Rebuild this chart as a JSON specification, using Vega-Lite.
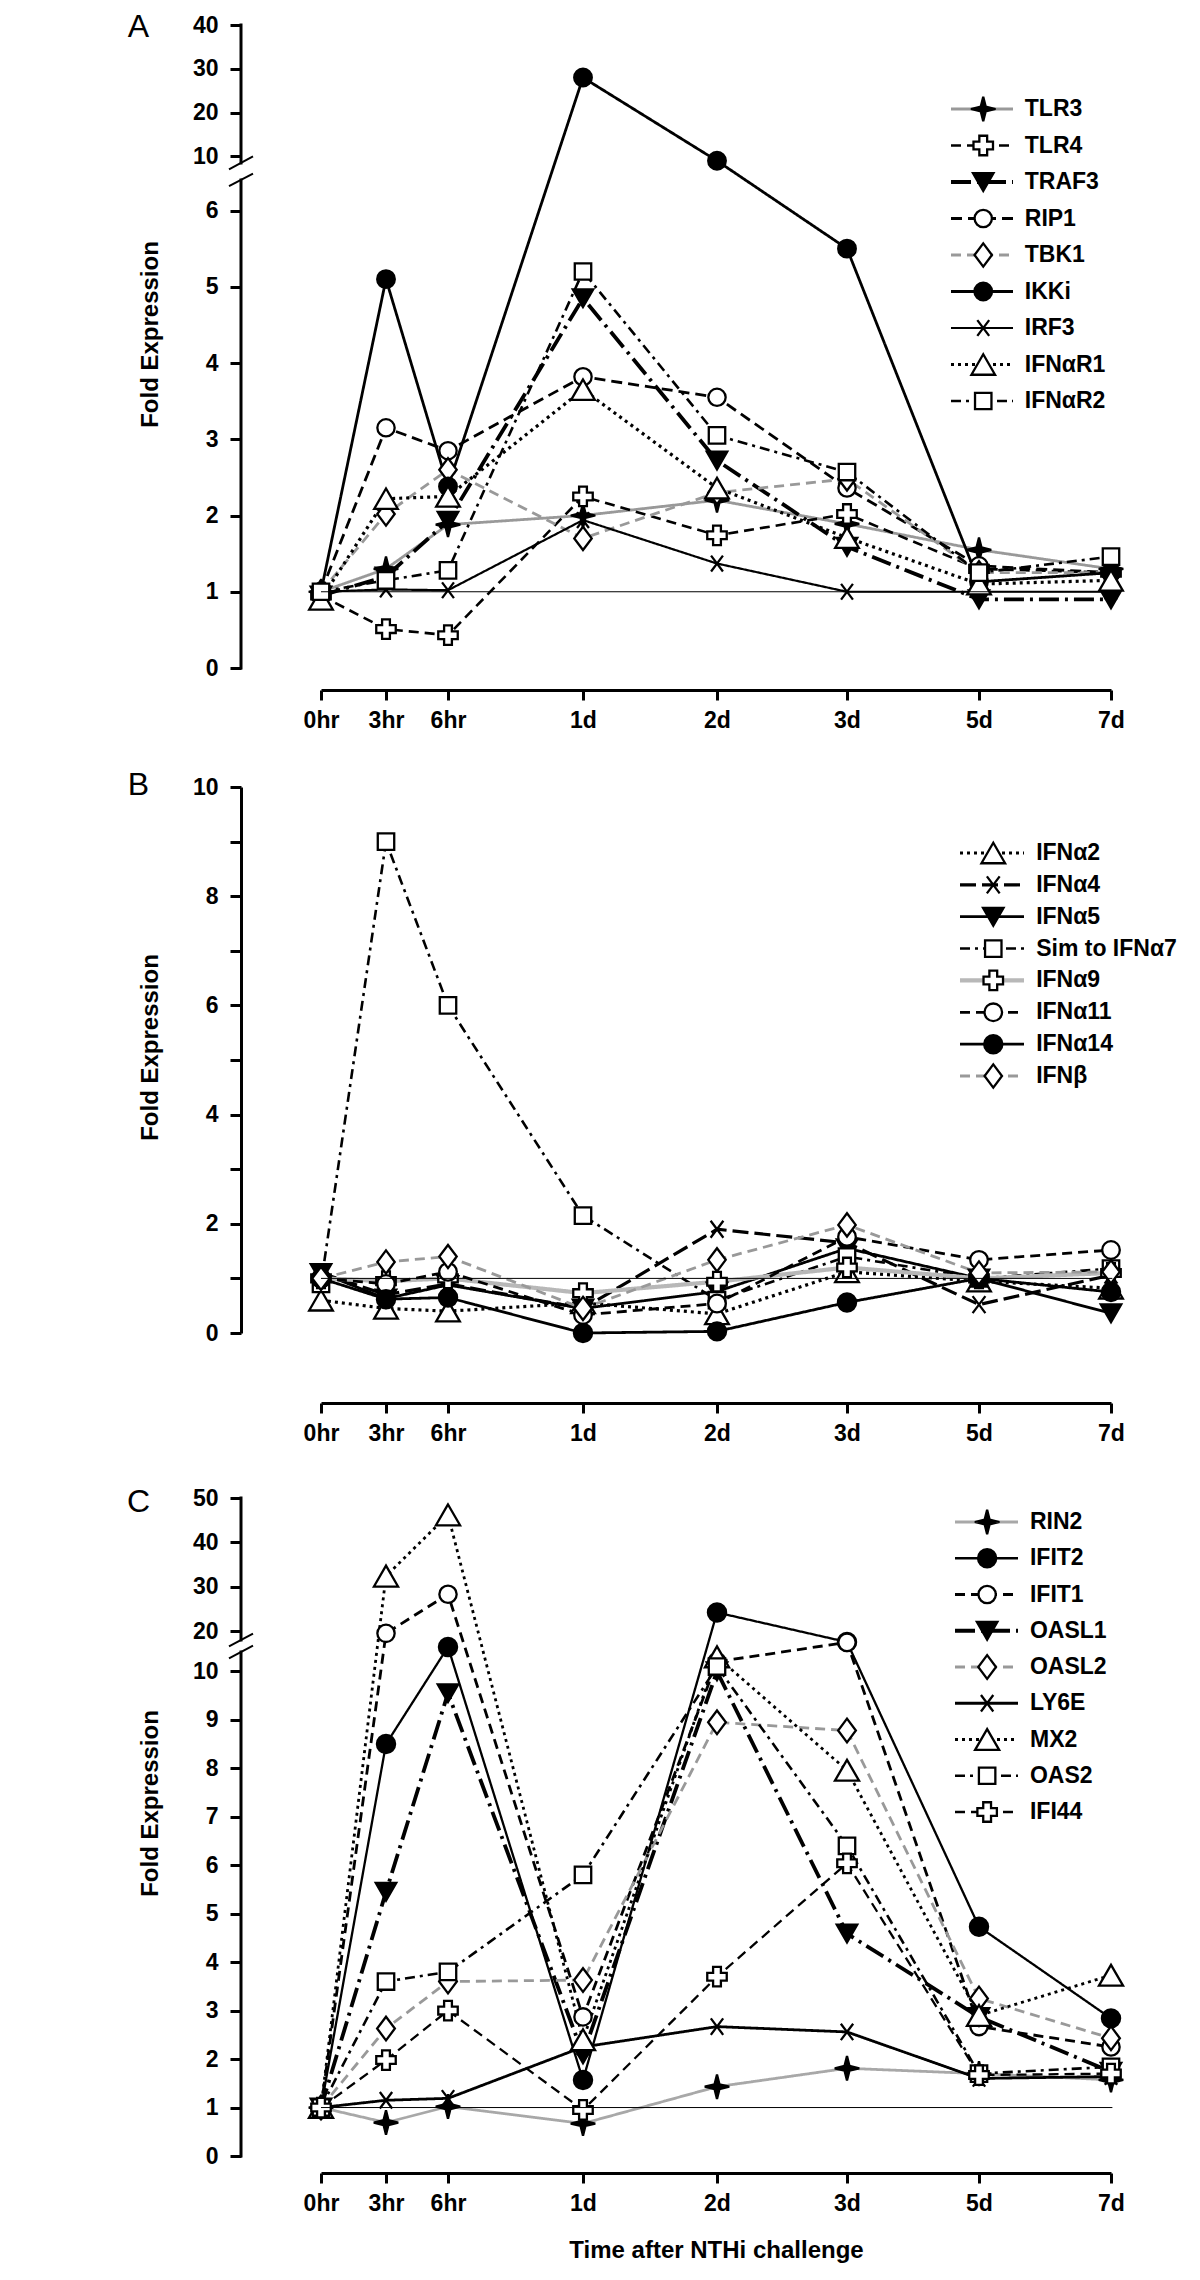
{
"$schema": "https://vega.github.io/schema/vega-lite/v6.json",
"width": 1200, "height": 2280, "autosize": "none", "padding": 0, "background": "white",
"config": {
  "view": {"stroke": null},
  "font": "Liberation Sans",
  "axis": {"domainColor": "black", "domainWidth": 3, "tickColor": "black", "tickWidth": 3, "tickSize": 11, "labelFont": "Liberation Sans", "labelFontSize": 23, "labelFontWeight": "bold", "labelColor": "black", "titleFont": "Liberation Sans", "titleFontSize": 24, "titleFontWeight": "bold", "titleColor": "black", "grid": false, "labelPadding": 12, "labelOverlap": false, "labelFlush": false},
  "axisX": {"tickSize": 10, "labelPadding": 9, "labelAngle": 0}
},
"datasets": {
"A": [
{"gene":"TLR3","t":0,"v":1.0},{"gene":"TLR3","t":3,"v":1.3},{"gene":"TLR3","t":6,"v":1.88},{"gene":"TLR3","t":24,"v":2.0},{"gene":"TLR3","t":48,"v":2.2},{"gene":"TLR3","t":72,"v":1.89},{"gene":"TLR3","t":120,"v":1.55},{"gene":"TLR3","t":168,"v":1.3},
{"gene":"TLR4","t":0,"v":0.95},{"gene":"TLR4","t":3,"v":0.51},{"gene":"TLR4","t":6,"v":0.43},{"gene":"TLR4","t":24,"v":2.25},{"gene":"TLR4","t":48,"v":1.74},{"gene":"TLR4","t":72,"v":2.02},{"gene":"TLR4","t":120,"v":1.3},{"gene":"TLR4","t":168,"v":1.25},
{"gene":"TRAF3","t":0,"v":0.95},{"gene":"TRAF3","t":3,"v":1.2},{"gene":"TRAF3","t":6,"v":1.93},{"gene":"TRAF3","t":24,"v":4.85},{"gene":"TRAF3","t":48,"v":2.72},{"gene":"TRAF3","t":72,"v":1.59},{"gene":"TRAF3","t":120,"v":0.9},{"gene":"TRAF3","t":168,"v":0.9},
{"gene":"RIP1","t":0,"v":1.0},{"gene":"RIP1","t":3,"v":3.15},{"gene":"RIP1","t":6,"v":2.85},{"gene":"RIP1","t":24,"v":3.82},{"gene":"RIP1","t":48,"v":3.55},{"gene":"RIP1","t":72,"v":2.36},{"gene":"RIP1","t":120,"v":1.34},{"gene":"RIP1","t":168,"v":1.25},
{"gene":"TBK1","t":0,"v":1.0},{"gene":"TBK1","t":3,"v":2.02},{"gene":"TBK1","t":6,"v":2.6},{"gene":"TBK1","t":24,"v":1.7},{"gene":"TBK1","t":48,"v":2.3},{"gene":"TBK1","t":72,"v":2.48},{"gene":"TBK1","t":120,"v":1.25},{"gene":"TBK1","t":168,"v":1.25},
{"gene":"IKKi","t":0,"v":1.0},{"gene":"IKKi","t":3,"v":5.1},{"gene":"IKKi","t":6,"v":2.38},{"gene":"IKKi","t":24,"v":28},{"gene":"IKKi","t":48,"v":9.0},{"gene":"IKKi","t":72,"v":5.5},{"gene":"IKKi","t":120,"v":1.13},{"gene":"IKKi","t":168,"v":1.25},
{"gene":"IRF3","t":0,"v":1.0},{"gene":"IRF3","t":3,"v":1.03},{"gene":"IRF3","t":6,"v":1.02},{"gene":"IRF3","t":24,"v":1.94},{"gene":"IRF3","t":48,"v":1.37},{"gene":"IRF3","t":72,"v":1.0},{"gene":"IRF3","t":120,"v":1.0},{"gene":"IRF3","t":168,"v":1.0},
{"gene":"IFNαR1","t":0,"v":0.9},{"gene":"IFNαR1","t":3,"v":2.22},{"gene":"IFNαR1","t":6,"v":2.25},{"gene":"IFNαR1","t":24,"v":3.65},{"gene":"IFNαR1","t":48,"v":2.36},{"gene":"IFNαR1","t":72,"v":1.71},{"gene":"IFNαR1","t":120,"v":1.1},{"gene":"IFNαR1","t":168,"v":1.15},
{"gene":"IFNαR2","t":0,"v":1.0},{"gene":"IFNαR2","t":3,"v":1.15},{"gene":"IFNαR2","t":6,"v":1.28},{"gene":"IFNαR2","t":24,"v":5.2},{"gene":"IFNαR2","t":48,"v":3.05},{"gene":"IFNαR2","t":72,"v":2.57},{"gene":"IFNαR2","t":120,"v":1.25},{"gene":"IFNαR2","t":168,"v":1.46}
],
"B": [
{"gene":"IFNα2","t":0,"v":0.6},{"gene":"IFNα2","t":3,"v":0.45},{"gene":"IFNα2","t":6,"v":0.4},{"gene":"IFNα2","t":24,"v":0.55},{"gene":"IFNα2","t":48,"v":0.35},{"gene":"IFNα2","t":72,"v":1.12},{"gene":"IFNα2","t":120,"v":0.95},{"gene":"IFNα2","t":168,"v":0.82},
{"gene":"IFNα4","t":0,"v":1.1},{"gene":"IFNα4","t":3,"v":0.7},{"gene":"IFNα4","t":6,"v":0.9},{"gene":"IFNα4","t":24,"v":0.45},{"gene":"IFNα4","t":48,"v":1.9},{"gene":"IFNα4","t":72,"v":1.65},{"gene":"IFNα4","t":120,"v":0.52},{"gene":"IFNα4","t":168,"v":1.06},
{"gene":"IFNα5","t":0,"v":1.1},{"gene":"IFNα5","t":3,"v":0.63},{"gene":"IFNα5","t":6,"v":0.88},{"gene":"IFNα5","t":24,"v":0.45},{"gene":"IFNα5","t":48,"v":0.76},{"gene":"IFNα5","t":72,"v":1.55},{"gene":"IFNα5","t":120,"v":1.0},{"gene":"IFNα5","t":168,"v":0.36},
{"gene":"Sim to IFNα7","t":0,"v":0.9},{"gene":"Sim to IFNα7","t":3,"v":9.0},{"gene":"Sim to IFNα7","t":6,"v":6.0},{"gene":"Sim to IFNα7","t":24,"v":2.15},{"gene":"Sim to IFNα7","t":48,"v":0.6},{"gene":"Sim to IFNα7","t":72,"v":1.4},{"gene":"Sim to IFNα7","t":120,"v":1.0},{"gene":"Sim to IFNα7","t":168,"v":1.18},
{"gene":"IFNα9","t":0,"v":1.0},{"gene":"IFNα9","t":3,"v":0.95},{"gene":"IFNα9","t":6,"v":1.0},{"gene":"IFNα9","t":24,"v":0.73},{"gene":"IFNα9","t":48,"v":0.94},{"gene":"IFNα9","t":72,"v":1.2},{"gene":"IFNα9","t":120,"v":1.0},{"gene":"IFNα9","t":168,"v":1.1},
{"gene":"IFNα11","t":0,"v":1.0},{"gene":"IFNα11","t":3,"v":0.9},{"gene":"IFNα11","t":6,"v":1.12},{"gene":"IFNα11","t":24,"v":0.33},{"gene":"IFNα11","t":48,"v":0.54},{"gene":"IFNα11","t":72,"v":1.76},{"gene":"IFNα11","t":120,"v":1.34},{"gene":"IFNα11","t":168,"v":1.52},
{"gene":"IFNα14","t":0,"v":1.0},{"gene":"IFNα14","t":3,"v":0.62},{"gene":"IFNα14","t":6,"v":0.65},{"gene":"IFNα14","t":24,"v":0.0},{"gene":"IFNα14","t":48,"v":0.03},{"gene":"IFNα14","t":72,"v":0.56},{"gene":"IFNα14","t":120,"v":1.0},{"gene":"IFNα14","t":168,"v":0.75},
{"gene":"IFNβ","t":0,"v":1.0},{"gene":"IFNβ","t":3,"v":1.3},{"gene":"IFNβ","t":6,"v":1.4},{"gene":"IFNβ","t":24,"v":0.45},{"gene":"IFNβ","t":48,"v":1.34},{"gene":"IFNβ","t":72,"v":1.98},{"gene":"IFNβ","t":120,"v":1.1},{"gene":"IFNβ","t":168,"v":1.12}
],
"C": [
{"gene":"RIN2","t":0,"v":1.0},{"gene":"RIN2","t":3,"v":0.69},{"gene":"RIN2","t":6,"v":1.02},{"gene":"RIN2","t":24,"v":0.67},{"gene":"RIN2","t":48,"v":1.43},{"gene":"RIN2","t":72,"v":1.81},{"gene":"RIN2","t":120,"v":1.7},{"gene":"RIN2","t":168,"v":1.57},
{"gene":"IFIT2","t":0,"v":1.0},{"gene":"IFIT2","t":3,"v":8.5},{"gene":"IFIT2","t":6,"v":13.6},{"gene":"IFIT2","t":24,"v":1.57},{"gene":"IFIT2","t":48,"v":24.2},{"gene":"IFIT2","t":72,"v":16.7},{"gene":"IFIT2","t":120,"v":4.73},{"gene":"IFIT2","t":168,"v":2.84},
{"gene":"IFIT1","t":0,"v":1.0},{"gene":"IFIT1","t":3,"v":19.5},{"gene":"IFIT1","t":6,"v":28.3},{"gene":"IFIT1","t":24,"v":2.87},{"gene":"IFIT1","t":48,"v":10.2},{"gene":"IFIT1","t":72,"v":16.5},{"gene":"IFIT1","t":120,"v":2.67},{"gene":"IFIT1","t":168,"v":2.25},
{"gene":"OASL1","t":0,"v":1.0},{"gene":"OASL1","t":3,"v":5.45},{"gene":"OASL1","t":6,"v":9.55},{"gene":"OASL1","t":24,"v":2.1},{"gene":"OASL1","t":48,"v":10.0},{"gene":"OASL1","t":72,"v":4.59},{"gene":"OASL1","t":120,"v":2.87},{"gene":"OASL1","t":168,"v":1.74},
{"gene":"OASL2","t":0,"v":1.0},{"gene":"OASL2","t":3,"v":2.63},{"gene":"OASL2","t":6,"v":3.6},{"gene":"OASL2","t":24,"v":3.63},{"gene":"OASL2","t":48,"v":8.95},{"gene":"OASL2","t":72,"v":8.78},{"gene":"OASL2","t":120,"v":3.25},{"gene":"OASL2","t":168,"v":2.43},
{"gene":"LY6E","t":0,"v":1.0},{"gene":"LY6E","t":3,"v":1.15},{"gene":"LY6E","t":6,"v":1.19},{"gene":"LY6E","t":24,"v":2.25},{"gene":"LY6E","t":48,"v":2.67},{"gene":"LY6E","t":72,"v":2.56},{"gene":"LY6E","t":120,"v":1.6},{"gene":"LY6E","t":168,"v":1.64},
{"gene":"MX2","t":0,"v":1.0},{"gene":"MX2","t":3,"v":32.4},{"gene":"MX2","t":6,"v":46.2},{"gene":"MX2","t":24,"v":2.4},{"gene":"MX2","t":48,"v":10.3},{"gene":"MX2","t":72,"v":7.96},{"gene":"MX2","t":120,"v":2.9},{"gene":"MX2","t":168,"v":3.73},
{"gene":"OAS2","t":0,"v":1.0},{"gene":"OAS2","t":3,"v":3.6},{"gene":"OAS2","t":6,"v":3.8},{"gene":"OAS2","t":24,"v":5.8},{"gene":"OAS2","t":48,"v":10.1},{"gene":"OAS2","t":72,"v":6.4},{"gene":"OAS2","t":120,"v":1.7},{"gene":"OAS2","t":168,"v":1.84},
{"gene":"IFI44","t":0,"v":1.0},{"gene":"IFI44","t":3,"v":1.98},{"gene":"IFI44","t":6,"v":3.0},{"gene":"IFI44","t":24,"v":0.95},{"gene":"IFI44","t":48,"v":3.7},{"gene":"IFI44","t":72,"v":6.04},{"gene":"IFI44","t":120,"v":1.67},{"gene":"IFI44","t":168,"v":1.7}
]
},
"layer": [
{"data":{"name":"A"},"mark":{"type":"line"},"encoding":{
 "x":{"field":"t","type":"quantitative","scale":{"domain":[0,3,6,24,48,72,120,168],"range":[321,386,448,583,717,847,979,1111],"nice":false,"zero":false},"axis":{"orient":"bottom","offset":-1590,"values":[0,3,6,24,48,72,120,168],"labelExpr":"datum.value < 24 ? datum.value + 'hr' : (datum.value/24) + 'd'","title":null}},
 "y":{"field":"v","type":"quantitative","scale":{"domain":[0,6.4,8.5,40],"range":[668,180,163,25],"nice":false,"zero":false},"axis":{"orient":"left","offset":-241,"domain":false,"values":[0,1,2,3,4,5,6,10,20,30,40],"title":"Fold Expression","titleX":-91,"titleY":334,"titleAngle":270,"titleAlign":"center","titleBaseline":"middle"}},
 "color":{"field":"gene","type":"nominal","scale":{"domain":["TLR3","TLR4","TRAF3","RIP1","TBK1","IKKi","IRF3","IFNαR1","IFNαR2"],"range":["#999999","#000000","#000000","#000000","#999999","#000000","#000000","#000000","#000000"]},"legend":null},
 "strokeDash":{"field":"gene","type":"nominal","scale":{"domain":["TLR3","TLR4","TRAF3","RIP1","TBK1","IKKi","IRF3","IFNαR1","IFNαR2"],"range":[[1,0],[10,6],[20,6,3,6],[11,6],[10,6],[1,0],[1,0],[3,4],[10,5,3,5]]},"legend":null},
 "strokeWidth":{"field":"gene","type":"nominal","scale":{"type":"ordinal","domain":["TLR3","TLR4","TRAF3","RIP1","TBK1","IKKi","IRF3","IFNαR1","IFNαR2"],"range":[2.8,2.6,3.8,2.8,2.8,2.8,2.2,3.2,2.6]},"legend":null}
}},
{"data":{"name":"A"},"mark":{"type":"point","opacity":1,"stroke":"black","strokeWidth":2.3},"encoding":{
 "x":{"field":"t","type":"quantitative","scale":{"domain":[0,3,6,24,48,72,120,168],"range":[321,386,448,583,717,847,979,1111],"nice":false,"zero":false},"axis":null},
 "y":{"field":"v","type":"quantitative","scale":{"domain":[0,6.4,8.5,40],"range":[668,180,163,25],"nice":false,"zero":false},"axis":null},
 "shape":{"field":"gene","type":"nominal","scale":{"domain":["TLR3","TLR4","TRAF3","RIP1","TBK1","IKKi","IRF3","IFNαR1","IFNαR2"],"range":["M0,-1L0.2,-0.2L1,0L0.2,0.2L0,1L-0.2,0.2L-1,0L-0.2,-0.2Z","cross","triangle-down","circle","M0,-1L0.75,0L0,1L-0.75,0Z","circle","M-0.75,-1L0.75,1M-0.75,1L0.75,-1","triangle-up","square"]},"legend":null},
 "fill":{"field":"gene","type":"nominal","scale":{"domain":["TLR3","TLR4","TRAF3","RIP1","TBK1","IKKi","IRF3","IFNαR1","IFNαR2"],"range":["#000000","#ffffff","#000000","#ffffff","#ffffff","#000000","#ffffff","#ffffff","#ffffff"]},"legend":null},
 "size":{"field":"gene","type":"nominal","scale":{"type":"ordinal","domain":["TLR3","TLR4","TRAF3","RIP1","TBK1","IKKi","IRF3","IFNαR1","IFNαR2"],"range":[600,380,420,300,540,310,250,560,270]},"legend":null}
}},
{"data":{"values":[{}]},"mark":{"type":"rule","color":"black","strokeWidth":1},"encoding":{
 "x":{"datum":0,"type":"quantitative","scale":{"domain":[0,3,6,24,48,72,120,168],"range":[321,386,448,583,717,847,979,1111],"nice":false,"zero":false},"axis":null},"x2":{"datum":168.5},
 "y":{"datum":1,"type":"quantitative","scale":{"domain":[0,6.4,8.5,40],"range":[668,180,163,25],"nice":false,"zero":false},"axis":null}}},
{"data":{"values":[{}]},"mark":{"type":"rule","color":"black","strokeWidth":3,"strokeCap":"square"},"encoding":{
 "x":{"datum":0,"type":"quantitative","scale":{"domain":[-1,1],"range":[229,253],"nice":false,"zero":false},"axis":null},
 "y":{"datum":0,"type":"quantitative","scale":{"domain":[0,6.4,8.5,40],"range":[668,180,163,25],"nice":false,"zero":false},"axis":null},"y2":{"datum":6.4}}},
{"data":{"values":[{}]},"mark":{"type":"rule","color":"black","strokeWidth":3,"strokeCap":"square"},"encoding":{
 "x":{"datum":0,"type":"quantitative","scale":{"domain":[-1,1],"range":[229,253],"nice":false,"zero":false},"axis":null},
 "y":{"datum":8.5,"type":"quantitative","scale":{"domain":[0,6.4,8.5,40],"range":[668,180,163,25],"nice":false,"zero":false},"axis":null},"y2":{"datum":40}}},
{"data":{"values":[{}]},"mark":{"type":"rule","color":"black","strokeWidth":2},"encoding":{
 "x":{"datum":-1,"type":"quantitative","scale":{"domain":[-1,1],"range":[229,253],"nice":false,"zero":false},"axis":null},"x2":{"datum":1},
 "y":{"datum":7.7,"type":"quantitative","scale":{"domain":[0,6.4,8.5,40],"range":[668,180,163,25],"nice":false,"zero":false},"axis":null},"y2":{"datum":10.0}}},
{"data":{"values":[{}]},"mark":{"type":"rule","color":"black","strokeWidth":2},"encoding":{
 "x":{"datum":-1,"type":"quantitative","scale":{"domain":[-1,1],"range":[229,253],"nice":false,"zero":false},"axis":null},"x2":{"datum":1},
 "y":{"datum":6.32,"type":"quantitative","scale":{"domain":[0,6.4,8.5,40],"range":[668,180,163,25],"nice":false,"zero":false},"axis":null},"y2":{"datum":7.2}}},
{"data":{"values":[{}]},"mark":{"type":"text","fontSize":32,"fontWeight":"normal","font":"Liberation Sans","align":"center","baseline":"middle","color":"black"},"encoding":{
 "text":{"datum":"A"},
 "x":{"datum":-8.54,"type":"quantitative","scale":{"domain":[-1,1],"range":[229,253],"nice":false,"zero":false},"axis":null},
 "y":{"datum":39.5,"type":"quantitative","scale":{"domain":[0,6.4,8.5,40],"range":[668,180,163,25],"nice":false,"zero":false},"axis":null}}},
{"data":{"name":"A"},"transform":[{"filter":"datum.t == 0"}],"mark":{"type":"rule"},"encoding":{
 "x":{"datum":0,"type":"quantitative","scale":{"domain":[0,1],"range":[951,1013],"nice":false,"zero":false},"axis":null},"x2":{"datum":1},
 "y":{"field":"gene","type":"nominal","scale":{"type":"point","domain":["TLR3","TLR4","TRAF3","RIP1","TBK1","IKKi","IRF3","IFNαR1","IFNαR2"],"range":[109,401],"padding":0},"axis":null},
 "color":{"field":"gene","type":"nominal","scale":{"domain":["TLR3","TLR4","TRAF3","RIP1","TBK1","IKKi","IRF3","IFNαR1","IFNαR2"],"range":["#999999","#000000","#000000","#000000","#999999","#000000","#000000","#000000","#000000"]},"legend":null},
 "strokeDash":{"field":"gene","type":"nominal","scale":{"domain":["TLR3","TLR4","TRAF3","RIP1","TBK1","IKKi","IRF3","IFNαR1","IFNαR2"],"range":[[1,0],[10,6],[20,6,3,6],[11,6],[10,6],[1,0],[1,0],[3,4],[10,5,3,5]]},"legend":null},
 "strokeWidth":{"field":"gene","type":"nominal","scale":{"type":"ordinal","domain":["TLR3","TLR4","TRAF3","RIP1","TBK1","IKKi","IRF3","IFNαR1","IFNαR2"],"range":[2.8,2.6,3.8,2.8,2.8,2.8,2.2,3.2,2.6]},"legend":null}
}},
{"data":{"name":"A"},"transform":[{"filter":"datum.t == 0"}],"mark":{"type":"point","opacity":1,"stroke":"black","strokeWidth":2.3},"encoding":{
 "x":{"datum":0.52,"type":"quantitative","scale":{"domain":[0,1],"range":[951,1013],"nice":false,"zero":false},"axis":null},
 "y":{"field":"gene","type":"nominal","scale":{"type":"point","domain":["TLR3","TLR4","TRAF3","RIP1","TBK1","IKKi","IRF3","IFNαR1","IFNαR2"],"range":[109,401],"padding":0},"axis":null},
 "shape":{"field":"gene","type":"nominal","scale":{"domain":["TLR3","TLR4","TRAF3","RIP1","TBK1","IKKi","IRF3","IFNαR1","IFNαR2"],"range":["M0,-1L0.2,-0.2L1,0L0.2,0.2L0,1L-0.2,0.2L-1,0L-0.2,-0.2Z","cross","triangle-down","circle","M0,-1L0.75,0L0,1L-0.75,0Z","circle","M-0.75,-1L0.75,1M-0.75,1L0.75,-1","triangle-up","square"]},"legend":null},
 "fill":{"field":"gene","type":"nominal","scale":{"domain":["TLR3","TLR4","TRAF3","RIP1","TBK1","IKKi","IRF3","IFNαR1","IFNαR2"],"range":["#000000","#ffffff","#000000","#ffffff","#ffffff","#000000","#ffffff","#ffffff","#ffffff"]},"legend":null},
 "size":{"field":"gene","type":"nominal","scale":{"type":"ordinal","domain":["TLR3","TLR4","TRAF3","RIP1","TBK1","IKKi","IRF3","IFNαR1","IFNαR2"],"range":[600,380,420,300,540,310,250,560,270]},"legend":null}
}},
{"data":{"name":"A"},"transform":[{"filter":"datum.t == 0"}],"mark":{"type":"text","align":"left","baseline":"middle","fontSize":23,"fontWeight":"bold","font":"Liberation Sans","color":"black"},"encoding":{
 "text":{"field":"gene","type":"nominal"},
 "x":{"datum":1.19,"type":"quantitative","scale":{"domain":[0,1],"range":[951,1013],"nice":false,"zero":false},"axis":null},
 "y":{"field":"gene","type":"nominal","scale":{"type":"point","domain":["TLR3","TLR4","TRAF3","RIP1","TBK1","IKKi","IRF3","IFNαR1","IFNαR2"],"range":[109,401],"padding":0},"axis":null}
}},

{"data":{"name":"B"},"mark":{"type":"line"},"encoding":{
 "x":{"field":"t","type":"quantitative","scale":{"domain":[0,3,6,24,48,72,120,168],"range":[321,386,448,583,717,847,979,1111],"nice":false,"zero":false},"axis":{"orient":"bottom","offset":-877,"values":[0,3,6,24,48,72,120,168],"labelExpr":"datum.value < 24 ? datum.value + 'hr' : (datum.value/24) + 'd'","title":null}},
 "y":{"field":"v","type":"quantitative","scale":{"domain":[0,10],"range":[1333,787],"nice":false,"zero":false},"axis":{"orient":"left","offset":-241,"domain":true,"values":[0,1,2,3,4,5,6,7,8,9,10],"labelExpr":"datum.value % 2 === 0 ? datum.label : ''","title":"Fold Expression","titleX":-91,"titleY":1047,"titleAngle":270,"titleAlign":"center","titleBaseline":"middle"}},
 "color":{"field":"gene","type":"nominal","scale":{"domain":["IFNα2","IFNα4","IFNα5","Sim to IFNα7","IFNα9","IFNα11","IFNα14","IFNβ"],"range":["#000000","#000000","#000000","#000000","#b8b8b8","#000000","#000000","#999999"]},"legend":null},
 "strokeDash":{"field":"gene","type":"nominal","scale":{"domain":["IFNα2","IFNα4","IFNα5","Sim to IFNα7","IFNα9","IFNα11","IFNα14","IFNβ"],"range":[[3,4],[16,6],[1,0],[10,5,3,5],[1,0],[10,6],[1,0],[10,6]]},"legend":null},
 "strokeWidth":{"field":"gene","type":"nominal","scale":{"type":"ordinal","domain":["IFNα2","IFNα4","IFNα5","Sim to IFNα7","IFNα9","IFNα11","IFNα14","IFNβ"],"range":[3.2,3.2,2.8,2.6,4.2,2.8,2.8,2.8]},"legend":null}
}},
{"data":{"name":"B"},"mark":{"type":"point","opacity":1,"stroke":"black","strokeWidth":2.3},"encoding":{
 "x":{"field":"t","type":"quantitative","scale":{"domain":[0,3,6,24,48,72,120,168],"range":[321,386,448,583,717,847,979,1111],"nice":false,"zero":false},"axis":null},
 "y":{"field":"v","type":"quantitative","scale":{"domain":[0,10],"range":[1333,787],"nice":false,"zero":false},"axis":null},
 "shape":{"field":"gene","type":"nominal","scale":{"domain":["IFNα2","IFNα4","IFNα5","Sim to IFNα7","IFNα9","IFNα11","IFNα14","IFNβ"],"range":["triangle-up","M-0.75,-1L0.75,1M-0.75,1L0.75,-1","triangle-down","square","cross","circle","circle","M0,-1L0.75,0L0,1L-0.75,0Z"]},"legend":null},
 "fill":{"field":"gene","type":"nominal","scale":{"domain":["IFNα2","IFNα4","IFNα5","Sim to IFNα7","IFNα9","IFNα11","IFNα14","IFNβ"],"range":["#ffffff","#ffffff","#000000","#ffffff","#ffffff","#ffffff","#000000","#ffffff"]},"legend":null},
 "size":{"field":"gene","type":"nominal","scale":{"type":"ordinal","domain":["IFNα2","IFNα4","IFNα5","Sim to IFNα7","IFNα9","IFNα11","IFNα14","IFNβ"],"range":[560,290,420,270,380,310,330,540]},"legend":null}
}},
{"data":{"values":[{}]},"mark":{"type":"rule","color":"black","strokeWidth":1},"encoding":{
 "x":{"datum":0,"type":"quantitative","scale":{"domain":[0,3,6,24,48,72,120,168],"range":[321,386,448,583,717,847,979,1111],"nice":false,"zero":false},"axis":null},"x2":{"datum":168.5},
 "y":{"datum":1,"type":"quantitative","scale":{"domain":[0,10],"range":[1333,787],"nice":false,"zero":false},"axis":null}}},
{"data":{"values":[{}]},"mark":{"type":"text","fontSize":32,"fontWeight":"normal","font":"Liberation Sans","align":"center","baseline":"middle","color":"black"},"encoding":{
 "text":{"datum":"B"},
 "x":{"datum":-8.54,"type":"quantitative","scale":{"domain":[-1,1],"range":[229,253],"nice":false,"zero":false},"axis":null},
 "y":{"datum":10.03,"type":"quantitative","scale":{"domain":[0,10],"range":[1333,787],"nice":false,"zero":false},"axis":null}}},
{"data":{"name":"B"},"transform":[{"filter":"datum.t == 0"}],"mark":{"type":"rule"},"encoding":{
 "x":{"datum":0,"type":"quantitative","scale":{"domain":[0,1],"range":[960,1024],"nice":false,"zero":false},"axis":null},"x2":{"datum":1},
 "y":{"field":"gene","type":"nominal","scale":{"type":"point","domain":["IFNα2","IFNα4","IFNα5","Sim to IFNα7","IFNα9","IFNα11","IFNα14","IFNβ"],"range":[853,1076],"padding":0},"axis":null},
 "color":{"field":"gene","type":"nominal","scale":{"domain":["IFNα2","IFNα4","IFNα5","Sim to IFNα7","IFNα9","IFNα11","IFNα14","IFNβ"],"range":["#000000","#000000","#000000","#000000","#b8b8b8","#000000","#000000","#999999"]},"legend":null},
 "strokeDash":{"field":"gene","type":"nominal","scale":{"domain":["IFNα2","IFNα4","IFNα5","Sim to IFNα7","IFNα9","IFNα11","IFNα14","IFNβ"],"range":[[3,4],[16,6],[1,0],[10,5,3,5],[1,0],[10,6],[1,0],[10,6]]},"legend":null},
 "strokeWidth":{"field":"gene","type":"nominal","scale":{"type":"ordinal","domain":["IFNα2","IFNα4","IFNα5","Sim to IFNα7","IFNα9","IFNα11","IFNα14","IFNβ"],"range":[3.2,3.2,2.8,2.6,4.2,2.8,2.8,2.8]},"legend":null}
}},
{"data":{"name":"B"},"transform":[{"filter":"datum.t == 0"}],"mark":{"type":"point","opacity":1,"stroke":"black","strokeWidth":2.3},"encoding":{
 "x":{"datum":0.52,"type":"quantitative","scale":{"domain":[0,1],"range":[960,1024],"nice":false,"zero":false},"axis":null},
 "y":{"field":"gene","type":"nominal","scale":{"type":"point","domain":["IFNα2","IFNα4","IFNα5","Sim to IFNα7","IFNα9","IFNα11","IFNα14","IFNβ"],"range":[853,1076],"padding":0},"axis":null},
 "shape":{"field":"gene","type":"nominal","scale":{"domain":["IFNα2","IFNα4","IFNα5","Sim to IFNα7","IFNα9","IFNα11","IFNα14","IFNβ"],"range":["triangle-up","M-0.75,-1L0.75,1M-0.75,1L0.75,-1","triangle-down","square","cross","circle","circle","M0,-1L0.75,0L0,1L-0.75,0Z"]},"legend":null},
 "fill":{"field":"gene","type":"nominal","scale":{"domain":["IFNα2","IFNα4","IFNα5","Sim to IFNα7","IFNα9","IFNα11","IFNα14","IFNβ"],"range":["#ffffff","#ffffff","#000000","#ffffff","#ffffff","#ffffff","#000000","#ffffff"]},"legend":null},
 "size":{"field":"gene","type":"nominal","scale":{"type":"ordinal","domain":["IFNα2","IFNα4","IFNα5","Sim to IFNα7","IFNα9","IFNα11","IFNα14","IFNβ"],"range":[560,290,420,270,380,310,330,540]},"legend":null}
}},
{"data":{"name":"B"},"transform":[{"filter":"datum.t == 0"}],"mark":{"type":"text","align":"left","baseline":"middle","fontSize":23,"fontWeight":"bold","font":"Liberation Sans","color":"black"},"encoding":{
 "text":{"field":"gene","type":"nominal"},
 "x":{"datum":1.19,"type":"quantitative","scale":{"domain":[0,1],"range":[960,1024],"nice":false,"zero":false},"axis":null},
 "y":{"field":"gene","type":"nominal","scale":{"type":"point","domain":["IFNα2","IFNα4","IFNα5","Sim to IFNα7","IFNα9","IFNα11","IFNα14","IFNβ"],"range":[853,1076],"padding":0},"axis":null}
}},

{"data":{"name":"C"},"mark":{"type":"line"},"encoding":{
 "x":{"field":"t","type":"quantitative","scale":{"domain":[0,3,6,24,48,72,120,168],"range":[321,386,448,583,717,847,979,1111],"nice":false,"zero":false},"axis":{"orient":"bottom","offset":-107,"values":[0,3,6,24,48,72,120,168],"labelExpr":"datum.value < 24 ? datum.value + 'hr' : (datum.value/24) + 'd'","title":"Time after NTHi challenge","titleY":77,"titleBaseline":"middle"}},
 "y":{"field":"v","type":"quantitative","scale":{"domain":[0,10.4,18,50],"range":[2156,1652,1640,1498],"nice":false,"zero":false},"axis":{"orient":"left","offset":-241,"domain":false,"values":[0,1,2,3,4,5,6,7,8,9,10,20,30,40,50],"title":"Fold Expression","titleX":-91,"titleY":1803,"titleAngle":270,"titleAlign":"center","titleBaseline":"middle"}},
 "color":{"field":"gene","type":"nominal","scale":{"domain":["RIN2","IFIT2","IFIT1","OASL1","OASL2","LY6E","MX2","OAS2","IFI44"],"range":["#a8a8a8","#000000","#000000","#000000","#999999","#000000","#000000","#000000","#000000"]},"legend":null},
 "strokeDash":{"field":"gene","type":"nominal","scale":{"domain":["RIN2","IFIT2","IFIT1","OASL1","OASL2","LY6E","MX2","OAS2","IFI44"],"range":[[1,0],[1,0],[10,6],[20,6,3,6],[10,6],[1,0],[3,4],[10,5,3,5],[10,6]]},"legend":null},
 "strokeWidth":{"field":"gene","type":"nominal","scale":{"type":"ordinal","domain":["RIN2","IFIT2","IFIT1","OASL1","OASL2","LY6E","MX2","OAS2","IFI44"],"range":[2.8,2.3,2.8,3.8,2.8,2.8,2.8,2.6,2.3]},"legend":null}
}},
{"data":{"name":"C"},"mark":{"type":"point","opacity":1,"stroke":"black","strokeWidth":2.3},"encoding":{
 "x":{"field":"t","type":"quantitative","scale":{"domain":[0,3,6,24,48,72,120,168],"range":[321,386,448,583,717,847,979,1111],"nice":false,"zero":false},"axis":null},
 "y":{"field":"v","type":"quantitative","scale":{"domain":[0,10.4,18,50],"range":[2156,1652,1640,1498],"nice":false,"zero":false},"axis":null},
 "shape":{"field":"gene","type":"nominal","scale":{"domain":["RIN2","IFIT2","IFIT1","OASL1","OASL2","LY6E","MX2","OAS2","IFI44"],"range":["M0,-1L0.2,-0.2L1,0L0.2,0.2L0,1L-0.2,0.2L-1,0L-0.2,-0.2Z","circle","circle","triangle-down","M0,-1L0.75,0L0,1L-0.75,0Z","M-0.75,-1L0.75,1M-0.75,1L0.75,-1","triangle-up","square","cross"]},"legend":null},
 "fill":{"field":"gene","type":"nominal","scale":{"domain":["RIN2","IFIT2","IFIT1","OASL1","OASL2","LY6E","MX2","OAS2","IFI44"],"range":["#000000","#000000","#ffffff","#000000","#ffffff","#ffffff","#ffffff","#ffffff","#ffffff"]},"legend":null},
 "size":{"field":"gene","type":"nominal","scale":{"type":"ordinal","domain":["RIN2","IFIT2","IFIT1","OASL1","OASL2","LY6E","MX2","OAS2","IFI44"],"range":[600,330,300,420,560,270,580,270,380]},"legend":null}
}},
{"data":{"values":[{}]},"mark":{"type":"rule","color":"black","strokeWidth":1},"encoding":{
 "x":{"datum":0,"type":"quantitative","scale":{"domain":[0,3,6,24,48,72,120,168],"range":[321,386,448,583,717,847,979,1111],"nice":false,"zero":false},"axis":null},"x2":{"datum":168.5},
 "y":{"datum":1,"type":"quantitative","scale":{"domain":[0,10.4,18,50],"range":[2156,1652,1640,1498],"nice":false,"zero":false},"axis":null}}},
{"data":{"values":[{}]},"mark":{"type":"rule","color":"black","strokeWidth":3,"strokeCap":"square"},"encoding":{
 "x":{"datum":0,"type":"quantitative","scale":{"domain":[-1,1],"range":[229,253],"nice":false,"zero":false},"axis":null},
 "y":{"datum":0,"type":"quantitative","scale":{"domain":[0,10.4,18,50],"range":[2156,1652,1640,1498],"nice":false,"zero":false},"axis":null},"y2":{"datum":10.4}}},
{"data":{"values":[{}]},"mark":{"type":"rule","color":"black","strokeWidth":3,"strokeCap":"square"},"encoding":{
 "x":{"datum":0,"type":"quantitative","scale":{"domain":[-1,1],"range":[229,253],"nice":false,"zero":false},"axis":null},
 "y":{"datum":18,"type":"quantitative","scale":{"domain":[0,10.4,18,50],"range":[2156,1652,1640,1498],"nice":false,"zero":false},"axis":null},"y2":{"datum":50}}},
{"data":{"values":[{}]},"mark":{"type":"rule","color":"black","strokeWidth":2},"encoding":{
 "x":{"datum":-1,"type":"quantitative","scale":{"domain":[-1,1],"range":[229,253],"nice":false,"zero":false},"axis":null},"x2":{"datum":1},
 "y":{"datum":13.9,"type":"quantitative","scale":{"domain":[0,10.4,18,50],"range":[2156,1652,1640,1498],"nice":false,"zero":false},"axis":null},"y2":{"datum":19.46}}},
{"data":{"values":[{}]},"mark":{"type":"rule","color":"black","strokeWidth":2},"encoding":{
 "x":{"datum":-1,"type":"quantitative","scale":{"domain":[-1,1],"range":[229,253],"nice":false,"zero":false},"axis":null},"x2":{"datum":1},
 "y":{"datum":10.27,"type":"quantitative","scale":{"domain":[0,10.4,18,50],"range":[2156,1652,1640,1498],"nice":false,"zero":false},"axis":null},"y2":{"datum":14.5}}},
{"data":{"values":[{}]},"mark":{"type":"text","fontSize":32,"fontWeight":"normal","font":"Liberation Sans","align":"center","baseline":"middle","color":"black"},"encoding":{
 "text":{"datum":"C"},
 "x":{"datum":-8.54,"type":"quantitative","scale":{"domain":[-1,1],"range":[229,253],"nice":false,"zero":false},"axis":null},
 "y":{"datum":49.1,"type":"quantitative","scale":{"domain":[0,10.4,18,50],"range":[2156,1652,1640,1498],"nice":false,"zero":false},"axis":null}}},
{"data":{"name":"C"},"transform":[{"filter":"datum.t == 0"}],"mark":{"type":"rule"},"encoding":{
 "x":{"datum":0,"type":"quantitative","scale":{"domain":[0,1],"range":[955,1018],"nice":false,"zero":false},"axis":null},"x2":{"datum":1},
 "y":{"field":"gene","type":"nominal","scale":{"type":"point","domain":["RIN2","IFIT2","IFIT1","OASL1","OASL2","LY6E","MX2","OAS2","IFI44"],"range":[1522,1812],"padding":0},"axis":null},
 "color":{"field":"gene","type":"nominal","scale":{"domain":["RIN2","IFIT2","IFIT1","OASL1","OASL2","LY6E","MX2","OAS2","IFI44"],"range":["#a8a8a8","#000000","#000000","#000000","#999999","#000000","#000000","#000000","#000000"]},"legend":null},
 "strokeDash":{"field":"gene","type":"nominal","scale":{"domain":["RIN2","IFIT2","IFIT1","OASL1","OASL2","LY6E","MX2","OAS2","IFI44"],"range":[[1,0],[1,0],[10,6],[20,6,3,6],[10,6],[1,0],[3,4],[10,5,3,5],[10,6]]},"legend":null},
 "strokeWidth":{"field":"gene","type":"nominal","scale":{"type":"ordinal","domain":["RIN2","IFIT2","IFIT1","OASL1","OASL2","LY6E","MX2","OAS2","IFI44"],"range":[2.8,2.3,2.8,3.8,2.8,2.8,2.8,2.6,2.3]},"legend":null}
}},
{"data":{"name":"C"},"transform":[{"filter":"datum.t == 0"}],"mark":{"type":"point","opacity":1,"stroke":"black","strokeWidth":2.3},"encoding":{
 "x":{"datum":0.51,"type":"quantitative","scale":{"domain":[0,1],"range":[955,1018],"nice":false,"zero":false},"axis":null},
 "y":{"field":"gene","type":"nominal","scale":{"type":"point","domain":["RIN2","IFIT2","IFIT1","OASL1","OASL2","LY6E","MX2","OAS2","IFI44"],"range":[1522,1812],"padding":0},"axis":null},
 "shape":{"field":"gene","type":"nominal","scale":{"domain":["RIN2","IFIT2","IFIT1","OASL1","OASL2","LY6E","MX2","OAS2","IFI44"],"range":["M0,-1L0.2,-0.2L1,0L0.2,0.2L0,1L-0.2,0.2L-1,0L-0.2,-0.2Z","circle","circle","triangle-down","M0,-1L0.75,0L0,1L-0.75,0Z","M-0.75,-1L0.75,1M-0.75,1L0.75,-1","triangle-up","square","cross"]},"legend":null},
 "fill":{"field":"gene","type":"nominal","scale":{"domain":["RIN2","IFIT2","IFIT1","OASL1","OASL2","LY6E","MX2","OAS2","IFI44"],"range":["#000000","#000000","#ffffff","#000000","#ffffff","#ffffff","#ffffff","#ffffff","#ffffff"]},"legend":null},
 "size":{"field":"gene","type":"nominal","scale":{"type":"ordinal","domain":["RIN2","IFIT2","IFIT1","OASL1","OASL2","LY6E","MX2","OAS2","IFI44"],"range":[600,330,300,420,560,270,580,270,380]},"legend":null}
}},
{"data":{"name":"C"},"transform":[{"filter":"datum.t == 0"}],"mark":{"type":"text","align":"left","baseline":"middle","fontSize":23,"fontWeight":"bold","font":"Liberation Sans","color":"black"},"encoding":{
 "text":{"field":"gene","type":"nominal"},
 "x":{"datum":1.19,"type":"quantitative","scale":{"domain":[0,1],"range":[955,1018],"nice":false,"zero":false},"axis":null},
 "y":{"field":"gene","type":"nominal","scale":{"type":"point","domain":["RIN2","IFIT2","IFIT1","OASL1","OASL2","LY6E","MX2","OAS2","IFI44"],"range":[1522,1812],"padding":0},"axis":null}
}}
],
"resolve": {"scale": {"x":"independent","y":"independent","color":"independent","strokeDash":"independent","strokeWidth":"independent","shape":"independent","fill":"independent","size":"independent"}, "axis": {"x":"independent","y":"independent"}}
}
